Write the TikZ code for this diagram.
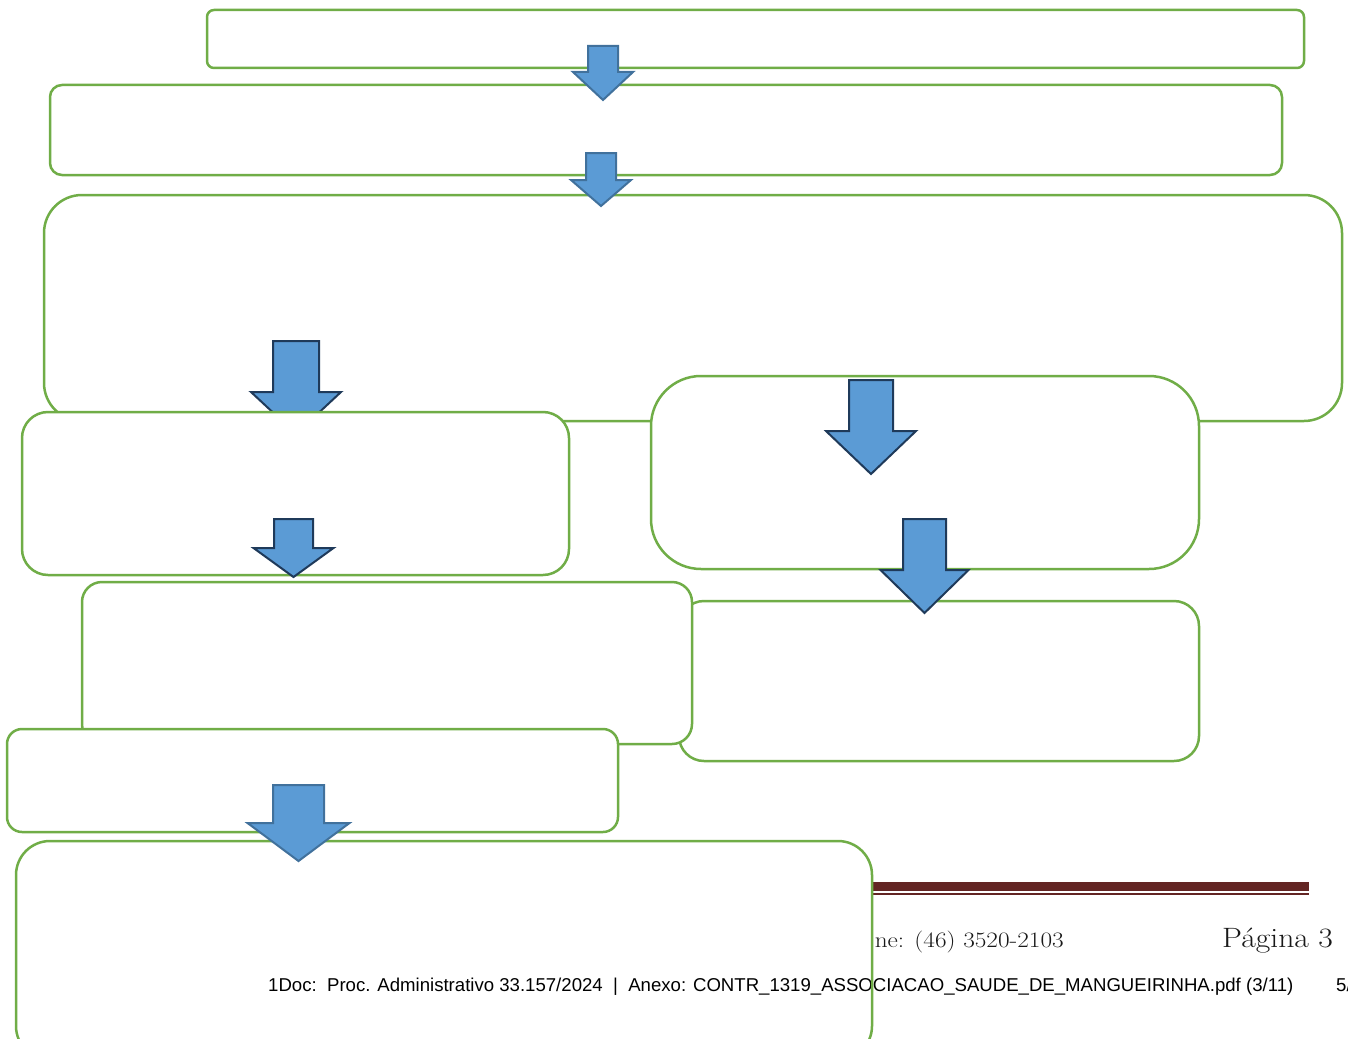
\documentclass[tikz,border=0pt]{standalone}
\usepackage{fontspec}
\newfontfamily\stampfont{Liberation Sans}
\definecolor{boxgreen}{HTML}{70AD47}
\definecolor{arrowblue}{HTML}{5B9BD5}
\definecolor{edgelight}{HTML}{41719C}
\definecolor{edgedark}{HTML}{1F3A5A}
\definecolor{maroon}{HTML}{632523}
\tikzset{
  stagebox/.style={draw=boxgreen, line width=2.5pt, fill=white, inner sep=0pt, outer sep=0pt},
  boxfill/.style={fill=white, draw=none, inner sep=0pt, outer sep=0pt},
  boxedge/.style={draw=boxgreen, line width=2.5pt, fill=none, inner sep=0pt, outer sep=0pt},
  blockarrow/.style={fill=arrowblue, line width=2pt, line join=miter},
  footertext/.style={inner sep=0pt, text=black!90},
}
% block arrow: centre x, top y, shaft half width, head half width, head y, tip y, edge colour
\newcommand\downblock[7]{%
  \draw[blockarrow, draw=#7]
    (#1-#3,#2) -- (#1+#3,#2) -- (#1+#3,#5) -- (#1+#4,#5) -- (#1,#6)
    -- (#1-#4,#5) -- (#1-#3,#5) -- cycle;}
% box by corners: name, x1, y1, x2, y2, corner radius, style
\newcommand\stage[7]{%
  \node[#7, rounded corners=#6pt, minimum width={(#4-#2)*1pt}, minimum height={(#5-#3)*1pt}]
    (#1) at ({(#2+#4)/2},{(#3+#5)/2}) {};}
\begin{document}
\begin{tikzpicture}[x=1pt, y=-1pt]
\useasboundingbox (0,0) rectangle (1348,1038);
\clip (0,0) rectangle (1348,1038);

% top chain
\stage{s1}{207}{10}{1304}{68}{7}{stagebox}
\stage{s2}{50}{85}{1282}{175}{12}{stagebox}
\downblock{603}{46}{15}{30}{72}{100}{edgelight}
\stage{s3}{44}{195}{1342}{421}{38}{stagebox}
\downblock{601}{153}{15}{30}{180}{206}{edgelight}

% left branch
\downblock{296}{341}{23}{45}{392}{434}{edgedark}
\stage{s4}{22}{412}{569}{575}{26}{stagebox}
\downblock{293.5}{519}{19.5}{40}{548}{577}{edgedark}

% right branch
\stage{s5}{651}{376}{1199}{569}{50}{stagebox}
\downblock{871}{380}{22}{45}{431}{474}{edgedark}
\stage{s6}{679}{601}{1199}{761}{25}{stagebox}

% lower stages
\stage{s7}{82}{582}{692}{744}{20}{stagebox}
\downblock{924.5}{519}{21.5}{44}{570}{613}{edgedark}
\stage{s8}{7}{729}{618}{832}{15}{stagebox}

% page footer
\fill[maroon] (860,882) rectangle (1309,891);
\fill[maroon] (860,893) rectangle (1309,895);
\node[footertext, anchor=base east, font=\fontsize{22}{26}\selectfont] (phone) at (1064,947)
  {\scalebox{1.15}[1]{ne: (46) 3520-2103}};
\node[footertext, anchor=base west, font=\fontsize{28}{32}\selectfont] (page) at (1222,947)
  {\scalebox{1.13}[1]{Página 3}};

% last stage
\stage{s9}{16}{841}{872}{1060}{34}{boxfill}
\node[anchor=base west, inner sep=0pt, font=\stampfont\fontsize{18.6}{22}\selectfont] (stamp) at (268,991)
  {1Doc:\ \ Proc. Administrativo 33.157/2024\ \ |\ \ Anexo: CONTR\_1319\_ASSOCIACAO\_SAUDE\_DE\_MANGUEIRINHA.pdf (3/11)};
\node[anchor=base west, inner sep=0pt, font=\stampfont\fontsize{18.6}{22}\selectfont] (sheet) at (1336,991) {5/};
\stage{s9e}{16}{841}{872}{1060}{34}{boxedge}
\downblock{298.5}{785}{25.5}{51}{823}{861}{edgelight}
\end{tikzpicture}
\end{document}
